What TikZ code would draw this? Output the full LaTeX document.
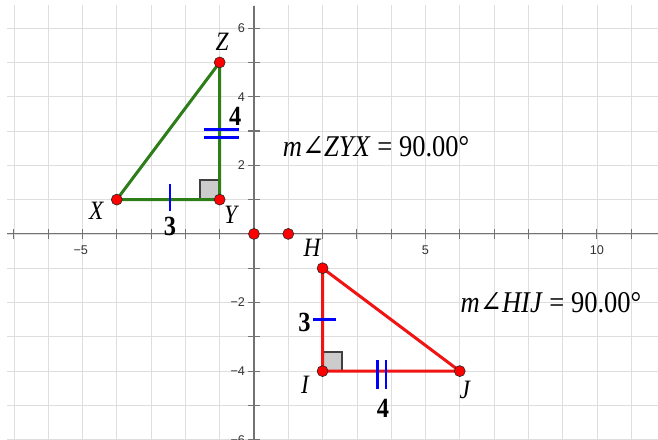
\documentclass[tikz,border=0pt]{standalone}
\usepackage{fontspec}
\usepackage{graphicx}
\setmainfont{Liberation Serif}
\newfontfamily\axisfont{Liberation Sans}
\newfontfamily\angfont{DejaVu Serif}
\definecolor{trigreen}{RGB}{45,125,25}
\definecolor{trired}{RGB}{240,20,20}
\newcommand{\cond}[1]{\scalebox{0.88}[1]{#1}}
\newcommand{\bigang}{{\angfont ∠}}
\begin{document}
\begin{tikzpicture}[x=1cm,y=1cm,
  gridline/.style={draw=black!13, line width=0.6pt},
  axisline/.style={draw=black!55, line width=0.9pt},
  ticklbl/.style={font=\axisfont\fontsize{10.5}{10.5}\selectfont, text=black!80, inner sep=1pt},
  pt/.style={circle, fill=red, draw=black!85, line width=0.5pt, minimum size=0.32cm, inner sep=0pt},
  vlbl/.style={font=\fontsize{22}{22}\selectfont\itshape, inner sep=0pt},
  numlbl/.style={font=\fontsize{23}{23}\selectfont\bfseries, inner sep=0pt},
  meas/.style={font=\fontsize{25}{25}\selectfont, inner sep=0pt},
  hashmark/.style={draw=blue, line width=2.2pt},
  rightsq/.style={draw=black!75, line width=1.6pt},
  greenside/.style={draw=trigreen, line width=2.5pt},
  redside/.style={draw=trired, line width=2.5pt},
  ]
\useasboundingbox (-7.405,-6.006) rectangle (11.78,6.82);
\fill[white] (-7.405,-6.006) rectangle (11.78,6.82);
% grid
\begin{scope}
\clip (-7.2,-6.1) rectangle (11.9,6.65);
\foreach \i in {-7,...,11} \draw[gridline] (\i,-6.2) -- (\i,7);
\foreach \j in {-6,...,6} \draw[gridline] (-7.5,\j) -- (12,\j);
\end{scope}
% axes
\coordinate (xl) at (-7.2,0);
\coordinate (xr) at (11.9,0);
\coordinate (yb) at (0,-6.1);
\coordinate (yt) at (0,6.65);
\draw[axisline] (xl) -- (xr);
\draw[axisline] (yb) -- (yt);
\foreach \i in {-7,...,11} \draw[axisline] (\i,-0.14) -- (\i,0.14);
\foreach \j in {-6,...,-1,1,2,...,6} \draw[axisline] (-0.17,\j) -- (0.17,\j);
\node[ticklbl] (lxm5) at (-5.05,-0.47) {−5};
\node[ticklbl] (lx5) at (5,-0.47) {5};
\node[ticklbl] (lx10) at (10,-0.47) {10};
\foreach \j/\t in {6/6,4/4,2/2,-2/−2,-4/−4,-6/−6}
  \node[ticklbl, anchor=east] (ly\j) at (-0.22,\j) {\t};
% points
\coordinate (X) at (-4,1);
\coordinate (Y) at (-1,1);
\coordinate (Z) at (-1,5);
\coordinate (H) at (2,-1);
\coordinate (I) at (2,-4);
\coordinate (J) at (6,-4);
% right angle squares
\fill[black!20] (-1.58,1) rectangle (-1,1.58);
\draw[rightsq] (-1.58,1) -- (-1.58,1.58) -- (-1,1.58);
\fill[black!20] (2,-4) rectangle (2.56,-3.44);
\draw[rightsq] (2,-3.44) -- (2.56,-3.44) -- (2.56,-4);
% triangles
\draw[greenside, line join=round] (X) -- (Y) -- (Z) -- cycle;
\draw[redside, line join=round] (H) -- (I) -- (J) -- cycle;
% hash marks
\draw[hashmark] (-2.45,0.66) -- (-2.45,1.46);
\draw[hashmark] (-1.46,3.05) -- (-0.44,3.05);
\draw[hashmark] (-1.46,2.81) -- (-0.44,2.81);
\draw[hashmark] (1.72,-2.5) -- (2.39,-2.5);
\draw[hashmark] (3.6,-3.67) -- (3.6,-4.52);
\draw[hashmark] (3.85,-3.67) -- (3.85,-4.52);
% dots
\node[pt] (Xd) at (X) {};
\node[pt] (Yd) at (Y) {};
\node[pt] (Zd) at (Z) {};
\node[pt] (Hd) at (H) {};
\node[pt] (Id) at (I) {};
\node[pt] (Jd) at (J) {};
\node[pt] (Od) at (0,0) {};
\node[pt] (Pd) at (1,0) {};
% labels
\node[vlbl] (Zl) at (-0.93,5.6) {\cond{Z}};
\node[vlbl] (Xl) at (-4.6,0.68) {\cond{X}};
\node[vlbl] (Yl) at (-0.68,0.55) {\cond{Y}};
\node[vlbl] (Hl) at (1.69,-0.4) {\cond{H}};
\node[vlbl] (Il) at (1.49,-4.4) {\cond{I}};
\node[vlbl] (Jl) at (6.15,-4.55) {\cond{J}};
\node[numlbl] (n4a) at (-0.55,3.44) {\cond{4}};
\node[numlbl] (n3a) at (-2.45,0.22) {\cond{3}};
\node[numlbl] (n3b) at (1.47,-2.57) {\cond{3}};
\node[numlbl] (n4b) at (3.76,-5.09) {\cond{4}};
\node[meas] (m1) at (3.56,2.54) {\cond{\textit{m}\bigang\textit{ZYX} = 90.00°}};
\node[meas] (m2) at (8.66,-2.0) {\cond{\textit{m}\bigang\textit{HIJ} = 90.00°}};
\end{tikzpicture}
\end{document}
